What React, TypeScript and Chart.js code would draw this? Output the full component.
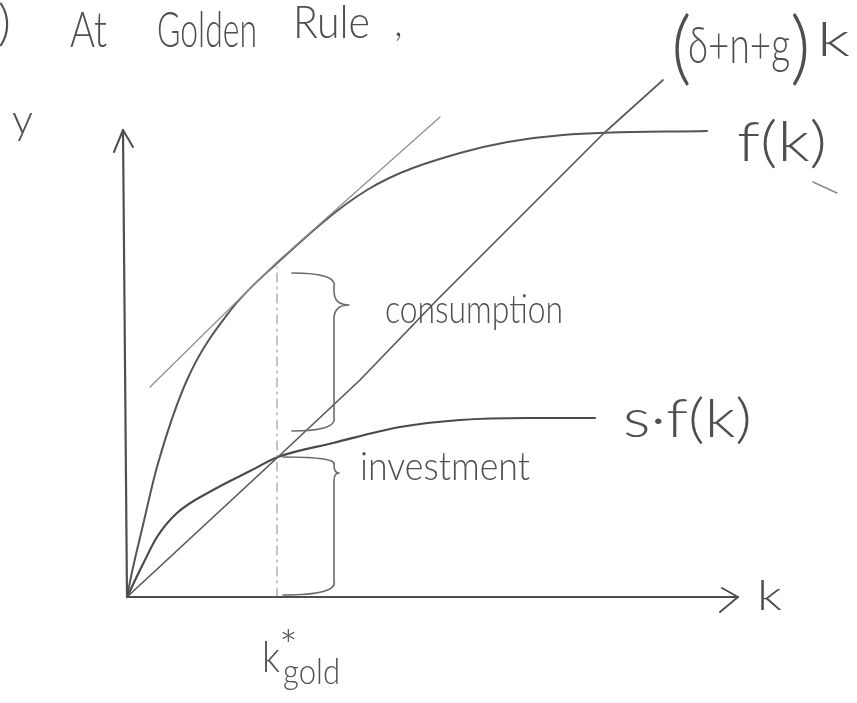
import { useEffect, useRef } from "react";
import { Chart, registerables } from "chart.js";

Chart.register(...registerables);

// Production function f(k)
const K_F = [0, 0.05, 0.16, 0.3, 0.6, 1.03, 1.48, 2.4, 3.33, 4.36, 5.8];
const F_K = [0, 0.25, 0.72, 1.3, 2.17, 2.86, 3.32, 4.07, 4.44, 4.62, 4.66];

// Saving / actual investment s·f(k)
const K_S = [0, 0.16, 0.3, 0.5, 0.86, 1.23, 1.51, 2.06, 2.73, 3.33, 4.0, 4.68];
const SF_K = [0, 0.33, 0.6, 0.84, 1.07, 1.26, 1.4, 1.54, 1.7, 1.77, 1.79, 1.79];

// Break-even investment (δ+n+g)k
const K_BE = [0, 1.51, 2.33, 3.1, 4.76, 5.36];
const BE_K = [0, 1.4, 2.17, 2.97, 4.63, 5.17];

// Tangent to f(k) at the golden-rule capital stock
const K_TAN = [0.23, 1.49, 3.13];
const TAN_K = [2.1, 3.34, 4.8];

// Golden-rule capital stock and output there
const K_GOLD = 1.5;
const F_GOLD = 3.3;

// Axes: k axis and y axis extents
const K_AXIS_X = [0, 6.11];
const K_AXIS_Y = [0, 0];
const Y_AXIS_X = [0, -0.04];
const Y_AXIS_Y = [0, 4.67];

// Braces: [upper end, lower end, tip]
const CONSUMPTION_SPAN = [3.24, 1.66, 2.92];
const INVESTMENT_SPAN = [1.4, 0.02, 1.24];

const INK = "#4f4f4f";
const FONT = 'Lato, "Open Sans", sans-serif';

const pts = (xs: number[], ys: number[]) => xs.map((x, i) => ({ x, y: ys[i] }));

function fitText(
  ctx: CanvasRenderingContext2D,
  s: string,
  x0: number,
  x1: number,
  base: number,
  size: number
) {
  ctx.font = `300 ${size}px ${FONT}`;
  const w = ctx.measureText(s).width;
  ctx.save();
  ctx.translate(x0, base);
  ctx.scale((x1 - x0) / w, 1);
  ctx.fillText(s, 0, 0);
  ctx.restore();
}

function plainText(ctx: CanvasRenderingContext2D, s: string, x: number, base: number, size: number) {
  ctx.font = `300 ${size}px ${FONT}`;
  ctx.fillText(s, x, base);
}

function brace(
  ctx: CanvasRenderingContext2D,
  xs: number,
  xHook: number,
  xTip: number,
  yTop: number,
  yBot: number,
  yTip: number
) {
  const r1 = Math.min(14, (yTip - yTop) / 2);
  const r2 = Math.min(14, (yBot - yTip) / 2);
  ctx.beginPath();
  ctx.moveTo(xHook, yTop);
  ctx.quadraticCurveTo(xs + 4, yTop, xs, yTop + r1);
  ctx.lineTo(xs, yTip - r1);
  ctx.quadraticCurveTo(xs, yTip, xTip, yTip);
  ctx.quadraticCurveTo(xs, yTip, xs, yTip + r1);
  ctx.lineTo(xs, yBot - r2);
  ctx.quadraticCurveTo(xs + 4, yBot, xHook, yBot);
  ctx.stroke();
}

const sketchPlugin = {
  id: "sketchNotes",
  afterDatasetsDraw(chart: Chart) {
    const ctx = chart.ctx;
    const xs = chart.scales.x;
    const ys = chart.scales.y;
    ctx.save();
    ctx.lineCap = "round";
    ctx.lineJoin = "round";

    // arrow heads on both axes
    ctx.strokeStyle = INK;
    ctx.lineWidth = 2;
    const yTipX = xs.getPixelForValue(Y_AXIS_X[1]);
    const yTipY = ys.getPixelForValue(Y_AXIS_Y[1]);
    ctx.beginPath();
    ctx.moveTo(yTipX - 9, yTipY + 22);
    ctx.lineTo(yTipX, yTipY);
    ctx.lineTo(yTipX + 10, yTipY + 17);
    ctx.stroke();
    const kTipX = xs.getPixelForValue(K_AXIS_X[1]);
    const kTipY = ys.getPixelForValue(K_AXIS_Y[1]);
    ctx.beginPath();
    ctx.moveTo(kTipX - 16, kTipY - 9);
    ctx.lineTo(kTipX, kTipY);
    ctx.lineTo(kTipX - 18, kTipY + 15);
    ctx.stroke();

    // braces marking consumption and investment at k*gold
    ctx.strokeStyle = "#6a6a6a";
    ctx.lineWidth = 1.6;
    const gx = xs.getPixelForValue(K_GOLD);
    brace(
      ctx,
      gx + 57,
      gx + 15,
      gx + 72,
      ys.getPixelForValue(CONSUMPTION_SPAN[0]),
      ys.getPixelForValue(CONSUMPTION_SPAN[1]),
      ys.getPixelForValue(CONSUMPTION_SPAN[2])
    );
    brace(
      ctx,
      gx + 57,
      gx + 6,
      gx + 62,
      ys.getPixelForValue(INVESTMENT_SPAN[0]),
      ys.getPixelForValue(INVESTMENT_SPAN[1]),
      ys.getPixelForValue(INVESTMENT_SPAN[2])
    );

    // small stroke under the f(k) label
    ctx.strokeStyle = "#8a8a8a";
    ctx.lineWidth = 1.5;
    ctx.beginPath();
    ctx.moveTo(813, 182);
    ctx.lineTo(837, 193);
    ctx.stroke();

    // handwritten-style labels
    ctx.fillStyle = INK;
    ctx.textBaseline = "alphabetic";
    ctx.textAlign = "left";
    plainText(ctx, ")", -2, 40, 50);
    fitText(ctx, "At", 70, 107, 47, 50);
    fitText(ctx, "Golden", 157, 257, 47, 50);
    fitText(ctx, "Rule", 293, 370, 38, 46);
    plainText(ctx, ",", 394, 36, 40);

    fitText(ctx, "y", 12, 33, 134, 42);

    plainText(ctx, "(", 671, 75, 80);
    fitText(ctx, "δ+n+g", 688, 790, 63, 52);
    plainText(ctx, ")", 790, 75, 80);
    fitText(ctx, "k", 817, 850, 56, 48);

    fitText(ctx, "f(k)", 737, 827, 161, 56);
    fitText(ctx, "consumption", 385, 563, 323, 40);
    fitText(ctx, "s·f(k)", 623, 752, 437, 54);
    fitText(ctx, "investment", 360, 530, 480, 40);
    fitText(ctx, "k", 757, 782, 610, 42);

    fitText(ctx, "k", 262, 280, 672, 44);
    plainText(ctx, "*", 279, 662, 44);
    fitText(ctx, "gold", 283, 340, 684, 36);

    ctx.restore();
  },
};

export default function App() {
  const ref = useRef<HTMLCanvasElement>(null);

  useEffect(() => {
    const base = {
      showLine: true,
      pointRadius: 0,
      pointHoverRadius: 0,
      fill: false,
      borderCapStyle: "round" as const,
      borderJoinStyle: "round" as const,
    };
    const chart = new Chart(ref.current!, {
      type: "scatter",
      data: {
        datasets: [
          { ...base, label: "k axis", data: pts(K_AXIS_X, K_AXIS_Y), borderColor: INK, borderWidth: 2 },
          { ...base, label: "y axis", data: pts(Y_AXIS_X, Y_AXIS_Y), borderColor: INK, borderWidth: 2.2 },
          {
            ...base,
            label: "k*gold",
            data: pts([K_GOLD, K_GOLD], [0, F_GOLD]),
            borderColor: "#8a8a8a",
            borderWidth: 1,
            borderDash: [9, 5, 2, 5],
          },
          {
            ...base,
            label: "tangent",
            data: pts(K_TAN, TAN_K),
            borderColor: "#8e8e8e",
            borderWidth: 1.2,
          },
          {
            ...base,
            label: "(δ+n+g)k",
            data: pts(K_BE, BE_K),
            borderColor: "#5a5a5a",
            borderWidth: 1.7,
          },
          {
            ...base,
            label: "f(k)",
            data: pts(K_F, F_K),
            borderColor: "#555555",
            borderWidth: 2,
            cubicInterpolationMode: "monotone" as const,
          },
          {
            ...base,
            label: "s·f(k)",
            data: pts(K_S, SF_K),
            borderColor: "#4a4a4a",
            borderWidth: 2.2,
            cubicInterpolationMode: "monotone" as const,
          },
        ],
      },
      options: {
        responsive: false,
        animation: false,
        events: [],
        layout: { padding: 0 },
        plugins: { legend: { display: false }, tooltip: { enabled: false } },
        scales: {
          x: { type: "linear", min: -1.27, max: 7.3, display: false },
          y: { type: "linear", min: -1.06, max: 5.97, display: false },
        },
      },
      plugins: [sketchPlugin],
    });
    return () => chart.destroy();
  }, []);

  return (
    <div style={{ position: "fixed", left: 0, top: 0, width: 857, height: 703, background: "#fff" }}>
      <canvas ref={ref} width={857} height={703} style={{ display: "block" }} />
    </div>
  );
}
